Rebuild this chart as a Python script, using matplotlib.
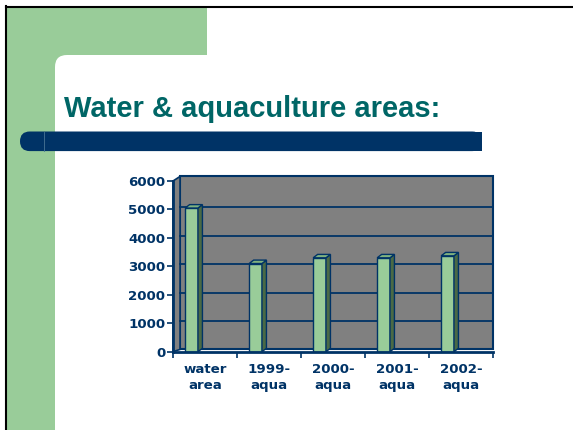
import matplotlib
matplotlib.use("Agg")
import matplotlib.pyplot as plt
from matplotlib.patches import Rectangle, Polygon, FancyBboxPatch, Circle

# ---- data ----
categories = ["water\narea", "1999-\naqua", "2000-\naqua", "2001-\naqua", "2002-\naqua"]
values = [5050, 3100, 3300, 3300, 3370]
yticks = [0, 1000, 2000, 3000, 4000, 5000, 6000]
title = "Water & aquaculture areas:"

W, H = 573, 430
NAVY = "#003366"
GREEN = "#99CC99"
SIDE = "#4A6A45"
TEAL = "#006666"
GRAY = "#808080"
TITLE_FONT = "Liberation Sans"
TICK_FONT = "DejaVu Sans"

fig = plt.figure(figsize=(W / 100, H / 100), dpi=100)
fig.patch.set_facecolor("white")

# background (slide) axes in pixel coordinates
bg = fig.add_axes([0, 0, 1, 1])
bg.set_xlim(0, W)
bg.set_ylim(H, 0)
bg.axis("off")
bg.add_patch(Rectangle((7, 7), 200, 430, facecolor=GREEN, edgecolor="none"))
bg.add_patch(FancyBboxPatch((55, 55), 700, 600, boxstyle="round,pad=0,rounding_size=12",
                            facecolor="white", edgecolor="none"))
bg.plot([6, 6], [6, H], color="black", lw=1.5)
bg.plot([6, W], [7, 7], color="black", lw=1.5)
bg.text(64, 117, title, fontsize=21, fontweight="bold", color=TEAL,
        family=TITLE_FONT, va="baseline", ha="left")
bg.add_patch(FancyBboxPatch((20, 131.5), 462, 19.6,
                            boxstyle="round,pad=0,rounding_size=9.8",
                            facecolor=NAVY, edgecolor="none"))
bg.add_patch(Rectangle((40, 131.5), 442, 19.6, facecolor=NAVY, edgecolor="none"))
bg.plot([44, 44], [131.5, 151.1], color="#4a7595", lw=0.6)

# chart axes
x0, x1 = 173, 493
y0, y1 = 351.7, 181
ax = fig.add_axes([x0 / W, 1 - y0 / H, (x1 - x0) / W, (y0 - y1) / H])
ax.set_facecolor("none")
n = len(categories)
ax.set_xlim(0, n)
ax.set_ylim(0, 6000)

dx, dy = 0.07, 120          # depth offset (data units)
wall_dx, wall_dy = 0.11, 80

# back wall
ax.add_patch(Rectangle((wall_dx, wall_dy), n - wall_dx, 6000 + 80, facecolor=GRAY,
                       edgecolor=NAVY, lw=1.5, clip_on=False, zorder=0))
for t in yticks[1:-1]:
    ax.plot([wall_dx, n], [t + wall_dy, t + wall_dy], color=NAVY, lw=1.3,
            clip_on=False, zorder=1)
# left side wall
ax.add_patch(Polygon([(0, 0), (wall_dx, wall_dy), (wall_dx, 6000 + 160), (0, 6000)],
                     closed=True, facecolor=GRAY, edgecolor=NAVY, lw=1.2,
                     clip_on=False, zorder=0))

# bars
bw = 0.2
off = 0.19
for i, v in enumerate(values):
    left = i + off
    right = left + bw
    ax.bar(left, v, width=bw, align="edge", color=GREEN, edgecolor=NAVY,
           linewidth=1.0, zorder=3)
    ax.add_patch(Polygon([(right, 0), (right + dx, dy), (right + dx, v + dy), (right, v)],
                         closed=True, facecolor=SIDE, edgecolor=NAVY, lw=1.0,
                         zorder=3, clip_on=False))
    ax.add_patch(Polygon([(left, v), (right, v), (right + dx, v + dy), (left + dx, v + dy)],
                         closed=True, facecolor="#7FB27F", edgecolor=NAVY, lw=1.0,
                         zorder=3, clip_on=False))

for s in ["top", "right"]:
    ax.spines[s].set_visible(False)
for s in ["left", "bottom"]:
    ax.spines[s].set_color(NAVY)
    ax.spines[s].set_linewidth(2)
    ax.spines[s].set_zorder(5)

ax.set_yticks(yticks)
ax.set_yticklabels([str(t) for t in yticks])
ax.set_xticks(range(n + 1))
ax.set_xticklabels([])
ax.set_xticks([i + 0.5 for i in range(n)], minor=True)
ax.set_xticklabels(categories, minor=True)
ax.tick_params(axis="x", which="minor", length=0, pad=8)
ax.tick_params(axis="x", which="major", length=4, width=1.2, color=NAVY, direction="out")
ax.tick_params(axis="y", length=4, width=1.2, color=NAVY, pad=1.5)
for lab in ax.get_yticklabels() + ax.get_xticklabels(minor=True):
    lab.set_fontfamily(TICK_FONT)
    lab.set_fontweight("bold")
    lab.set_fontsize(9.6)
    lab.set_color(NAVY)
for lab in ax.get_xticklabels(minor=True):
    lab.set_linespacing(1.3)

fig.savefig("out.png", dpi=100)
